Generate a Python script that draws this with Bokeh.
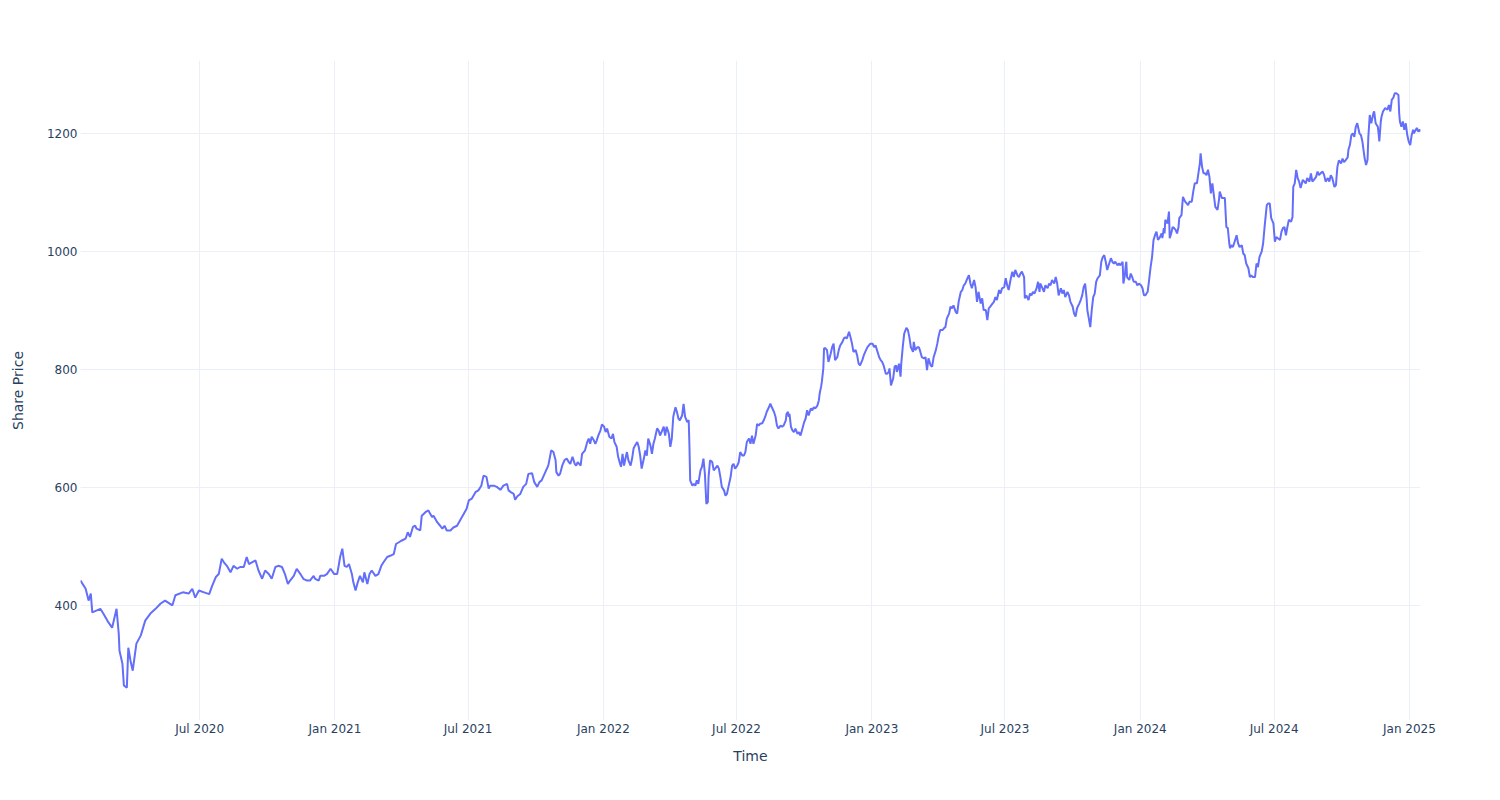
import pandas as pd
from bokeh.plotting import figure
from bokeh.models import Range1d, MonthsTicker, FixedTicker, DatetimeTickFormatter
from bokeh.embed import file_html
from bokeh.resources import INLINE

dates_2020 = ["2020-01-21","2020-01-28","2020-02-01","2020-02-04","2020-02-06","2020-02-17","2020-02-21","2020-02-28","2020-03-04","2020-03-10","2020-03-13","2020-03-14","2020-03-18","2020-03-20","2020-03-24","2020-03-26","2020-03-29","2020-04-01","2020-04-06","2020-04-12","2020-04-18","2020-04-25","2020-05-02","2020-05-09","2020-05-15","2020-05-25","2020-05-29","2020-06-08","2020-06-16","2020-06-21","2020-06-25","2020-06-30","2020-07-07","2020-07-14","2020-07-18","2020-07-23","2020-07-27","2020-07-31","2020-08-03","2020-08-07","2020-08-12","2020-08-16","2020-08-21","2020-08-25","2020-08-30","2020-09-03","2020-09-06","2020-09-10","2020-09-15","2020-09-19","2020-09-24","2020-09-28","2020-10-03","2020-10-07","2020-10-12","2020-10-16","2020-10-21","2020-10-25","2020-10-29","2020-11-01","2020-11-06","2020-11-10","2020-11-15","2020-11-19","2020-11-24","2020-11-28","2020-12-03","2020-12-05","2020-12-10","2020-12-12","2020-12-17","2020-12-21","2020-12-26","2020-12-31"]
price_2020 = [442,428,408,420,388,394,386,371,362,394,352,323,301,264,260,328,306,289,335,349,374,386,394,403,408,400,417,422,420,428,413,425,422,419,433,448,453,479,473,467,456,467,462,465,465,482,470,473,476,459,445,459,453,445,465,467,465,453,436,442,450,462,453,445,442,442,450,445,442,450,450,453,462,453]

dates_2021 = ["2021-01-04","2021-01-06","2021-01-08","2021-01-11","2021-01-14","2021-01-17","2021-01-20","2021-01-24","2021-01-26","2021-01-29","2021-02-01","2021-02-04","2021-02-08","2021-02-10","2021-02-14","2021-02-17","2021-02-20","2021-02-25","2021-03-01","2021-03-05","2021-03-08","2021-03-13","2021-03-17","2021-03-22","2021-03-25","2021-03-29","2021-04-02","2021-04-07","2021-04-10","2021-04-13","2021-04-17","2021-04-20","2021-04-22","2021-04-27","2021-04-29","2021-05-04","2021-05-08","2021-05-13","2021-05-15","2021-05-20","2021-05-24","2021-05-27","2021-05-30","2021-06-02","2021-06-07","2021-06-11","2021-06-16","2021-06-20","2021-06-25","2021-06-29","2021-07-02","2021-07-06","2021-07-11","2021-07-15","2021-07-19","2021-07-22","2021-07-26","2021-07-29","2021-07-31","2021-08-05","2021-08-09","2021-08-14","2021-08-18","2021-08-23","2021-08-25","2021-08-28","2021-09-01","2021-09-03","2021-09-06","2021-09-10","2021-09-14","2021-09-18","2021-09-21","2021-09-26","2021-09-29","2021-10-03","2021-10-06","2021-10-09","2021-10-14","2021-10-18","2021-10-19","2021-10-22","2021-10-25","2021-10-28","2021-10-29","2021-11-01","2021-11-03","2021-11-06","2021-11-09","2021-11-12","2021-11-15","2021-11-17","2021-11-20","2021-11-23","2021-11-25","2021-11-27","2021-12-01","2021-12-03","2021-12-05","2021-12-07","2021-12-10","2021-12-12","2021-12-14","2021-12-16","2021-12-19","2021-12-21","2021-12-23","2021-12-25","2021-12-28","2021-12-30"]
price_2021 = [453,467,482,496,467,465,470,453,439,425,439,450,439,456,436,453,459,450,453,467,473,482,484,487,504,507,510,513,524,516,533,535,530,527,552,558,561,550,552,541,535,530,535,527,527,532,535,544,555,564,578,581,592,595,603,620,618,598,603,603,601,596,603,606,595,592,589,579,585,589,601,606,623,624,609,601,609,612,626,637,643,663,660,646,626,620,623,637,646,649,643,640,652,640,637,643,637,657,660,663,677,683,674,686,680,674,680,688,697,707]

dates_2022 = ["2022-01-02","2022-01-04","2022-01-06","2022-01-09","2022-01-12","2022-01-14","2022-01-16","2022-01-19","2022-01-21","2022-01-23","2022-01-25","2022-01-27","2022-01-29","2022-01-31","2022-02-02","2022-02-04","2022-02-07","2022-02-09","2022-02-11","2022-02-13","2022-02-16","2022-02-18","2022-02-20","2022-02-22","2022-02-25","2022-02-27","2022-03-01","2022-03-03","2022-03-06","2022-03-08","2022-03-10","2022-03-12","2022-03-15","2022-03-17","2022-03-19","2022-03-24","2022-03-26","2022-03-28","2022-03-31","2022-04-02","2022-04-04","2022-04-06","2022-04-09","2022-04-11","2022-04-13","2022-04-15","2022-04-18","2022-04-20","2022-04-22","2022-04-25","2022-04-27","2022-04-28","2022-04-29","2022-05-02","2022-05-04","2022-05-06","2022-05-08","2022-05-10","2022-05-13","2022-05-15","2022-05-17","2022-05-19","2022-05-21","2022-05-23","2022-05-24","2022-05-26","2022-05-29","2022-05-31","2022-06-02","2022-06-05","2022-06-07","2022-06-09","2022-06-11","2022-06-14","2022-06-16","2022-06-18","2022-06-20","2022-06-23","2022-06-25","2022-06-27","2022-06-29","2022-07-02","2022-07-04","2022-07-06","2022-07-09","2022-07-11","2022-07-13","2022-07-15","2022-07-18","2022-07-20","2022-07-22","2022-07-24","2022-07-27","2022-07-29","2022-07-31","2022-08-02","2022-08-05","2022-08-07","2022-08-09","2022-08-11","2022-08-14","2022-08-16","2022-08-18","2022-08-21","2022-08-23","2022-08-25","2022-08-27","2022-08-30","2022-09-01","2022-09-03","2022-09-06","2022-09-07","2022-09-09","2022-09-10","2022-09-11","2022-09-13","2022-09-15","2022-09-17","2022-09-19","2022-09-22","2022-09-24","2022-09-26","2022-09-28","2022-10-01","2022-10-03","2022-10-05","2022-10-07","2022-10-10","2022-10-12","2022-10-14","2022-10-16","2022-10-19","2022-10-21","2022-10-22","2022-10-24","2022-10-25","2022-10-27","2022-10-28","2022-10-30","2022-11-01","2022-11-03","2022-11-06","2022-11-08","2022-11-10","2022-11-12","2022-11-15","2022-11-17","2022-11-19","2022-11-22","2022-11-24","2022-11-26","2022-11-28","2022-12-01","2022-12-03","2022-12-05","2022-12-07","2022-12-10","2022-12-12","2022-12-14","2022-12-16","2022-12-19","2022-12-21","2022-12-23","2022-12-26","2022-12-28","2022-12-30"]
price_2022 = [703,694,700,686,683,691,677,669,652,643,635,657,637,649,660,646,637,649,666,671,677,669,654,632,649,663,654,683,671,657,674,683,700,697,688,703,688,703,691,669,683,720,736,728,717,714,722,742,720,711,714,669,612,603,606,603,612,606,629,635,649,623,572,575,618,646,643,629,632,637,632,618,601,595,586,589,601,618,637,640,632,637,643,660,654,654,660,677,683,674,688,674,688,708,705,708,709,714,720,728,736,742,736,728,720,705,700,705,703,705,714,725,728,720,725,703,697,694,700,691,694,688,697,711,717,731,722,734,731,736,734,739,748,759,771,779,802,836,836,833,813,827,838,844,816,821,833,841,847,853,855,853,864,855,844,830,833,824,810,807,816,824,830,838,841,844]

dates_2023 = ["2023-01-02","2023-01-04","2023-01-06","2023-01-08","2023-01-11","2023-01-13","2023-01-15","2023-01-17","2023-01-20","2023-01-22","2023-01-24","2023-01-25","2023-01-27","2023-01-30","2023-02-01","2023-02-03","2023-02-04","2023-02-07","2023-02-09","2023-02-10","2023-02-12","2023-02-14","2023-02-17","2023-02-19","2023-02-21","2023-02-23","2023-02-26","2023-02-27","2023-03-01","2023-03-04","2023-03-06","2023-03-08","2023-03-10","2023-03-13","2023-03-15","2023-03-17","2023-03-19","2023-03-22","2023-03-24","2023-03-26","2023-03-29","2023-03-31","2023-04-02","2023-04-04","2023-04-07","2023-04-09","2023-04-11","2023-04-13","2023-04-16","2023-04-18","2023-04-20","2023-04-22","2023-04-25","2023-04-27","2023-04-29","2023-05-02","2023-05-04","2023-05-06","2023-05-08","2023-05-11","2023-05-13","2023-05-15","2023-05-17","2023-05-20","2023-05-22","2023-05-24","2023-05-26","2023-05-29","2023-05-31","2023-06-02","2023-06-05","2023-06-07","2023-06-09","2023-06-11","2023-06-14","2023-06-16","2023-06-18","2023-06-20","2023-06-23","2023-06-25","2023-06-27","2023-06-30","2023-07-02","2023-07-04","2023-07-06","2023-07-09","2023-07-11","2023-07-13","2023-07-15","2023-07-18","2023-07-20","2023-07-22","2023-07-24","2023-07-27","2023-07-28","2023-07-30","2023-08-02","2023-08-04","2023-08-06","2023-08-08","2023-08-10","2023-08-13","2023-08-15","2023-08-17","2023-08-18","2023-08-21","2023-08-23","2023-08-25","2023-08-28","2023-08-30","2023-09-01","2023-09-03","2023-09-06","2023-09-08","2023-09-10","2023-09-12","2023-09-15","2023-09-17","2023-09-19","2023-09-21","2023-09-24","2023-09-26","2023-09-28","2023-10-01","2023-10-03","2023-10-05","2023-10-07","2023-10-10","2023-10-12","2023-10-14","2023-10-16","2023-10-18","2023-10-20","2023-10-21","2023-10-23","2023-10-25","2023-10-27","2023-10-29","2023-10-31","2023-11-02","2023-11-04","2023-11-07","2023-11-09","2023-11-11","2023-11-13","2023-11-15","2023-11-17","2023-11-19","2023-11-22","2023-11-24","2023-11-26","2023-11-28","2023-12-01","2023-12-03","2023-12-05","2023-12-08","2023-12-09","2023-12-11","2023-12-12","2023-12-13","2023-12-14","2023-12-17","2023-12-19","2023-12-21","2023-12-23","2023-12-26","2023-12-28","2023-12-30"]
price_2023 = [844,838,841,833,821,816,813,807,793,793,796,802,773,785,805,807,796,810,788,810,838,861,871,867,855,838,830,847,833,838,838,830,821,819,821,799,819,807,805,821,833,844,858,867,867,870,872,887,895,907,904,909,898,895,915,932,935,943,946,955,960,946,938,952,940,915,932,912,921,901,901,884,904,907,912,915,923,918,935,929,938,940,955,943,935,955,966,957,969,960,957,963,966,957,921,926,918,929,926,932,929,938,949,932,946,938,932,943,938,946,943,952,946,957,946,926,938,929,935,923,932,926,915,907,895,890,904,912,918,926,940,946,921,901,887,872,901,923,929,949,955,960,983,991,994,983,969,977,989,983,980,983,977,980,977,983,946,960,974,983,957,952,963,957,949,949,943,946]

dates_2024 = ["2024-01-02","2024-01-04","2024-01-06","2024-01-08","2024-01-11","2024-01-13","2024-01-15","2024-01-17","2024-01-19","2024-01-21","2024-01-23","2024-01-25","2024-01-27","2024-01-30","2024-01-31","2024-02-02","2024-02-03","2024-02-04","2024-02-07","2024-02-09","2024-02-10","2024-02-12","2024-02-14","2024-02-16","2024-02-18","2024-02-20","2024-02-22","2024-02-23","2024-02-26","2024-02-28","2024-03-02","2024-03-04","2024-03-06","2024-03-08","2024-03-11","2024-03-13","2024-03-15","2024-03-18","2024-03-20","2024-03-22","2024-03-23","2024-03-25","2024-03-27","2024-03-29","2024-03-31","2024-04-02","2024-04-04","2024-04-06","2024-04-08","2024-04-10","2024-04-12","2024-04-15","2024-04-17","2024-04-18","2024-04-21","2024-04-23","2024-04-25","2024-04-27","2024-04-29","2024-05-01","2024-05-02","2024-05-04","2024-05-06","2024-05-09","2024-05-11","2024-05-13","2024-05-15","2024-05-18","2024-05-20","2024-05-22","2024-05-24","2024-05-27","2024-05-29","2024-05-31","2024-06-02","2024-06-05","2024-06-07","2024-06-09","2024-06-11","2024-06-14","2024-06-16","2024-06-18","2024-06-21","2024-06-23","2024-06-25","2024-06-27","2024-06-30","2024-07-02","2024-07-04","2024-07-06","2024-07-09","2024-07-11","2024-07-13","2024-07-15","2024-07-17","2024-07-19","2024-07-21","2024-07-24","2024-07-26","2024-07-27","2024-07-29","2024-07-31","2024-08-02","2024-08-04","2024-08-06","2024-08-09","2024-08-11","2024-08-13","2024-08-15","2024-08-18","2024-08-20","2024-08-22","2024-08-24","2024-08-27","2024-08-29","2024-08-31","2024-09-02","2024-09-05","2024-09-07","2024-09-09","2024-09-12","2024-09-14","2024-09-16","2024-09-18","2024-09-21","2024-09-23","2024-09-25","2024-09-27","2024-09-30","2024-10-02","2024-10-04","2024-10-06","2024-10-09","2024-10-10","2024-10-12","2024-10-14","2024-10-16","2024-10-18","2024-10-20","2024-10-22","2024-10-25","2024-10-27","2024-10-29","2024-11-01","2024-11-03","2024-11-05","2024-11-06","2024-11-08","2024-11-10","2024-11-13","2024-11-14","2024-11-16","2024-11-19","2024-11-20","2024-11-21","2024-11-23","2024-11-24","2024-11-26","2024-11-29","2024-12-02","2024-12-04","2024-12-06","2024-12-08","2024-12-10","2024-12-12","2024-12-14","2024-12-17","2024-12-18","2024-12-19","2024-12-21","2024-12-23","2024-12-25","2024-12-27","2024-12-29","2024-12-31"]
price_2024 = [943,938,926,926,932,952,974,991,1020,1028,1034,1020,1023,1031,1023,1040,1031,1054,1048,1068,1023,1031,1042,1040,1037,1031,1042,1057,1062,1093,1085,1082,1079,1085,1085,1102,1116,1116,1133,1150,1167,1144,1133,1133,1130,1139,1127,1099,1116,1096,1076,1071,1088,1102,1091,1091,1091,1042,1040,1014,1006,1011,1008,1020,1028,1014,1008,1011,997,994,980,972,957,960,957,957,980,974,991,1000,1014,1042,1079,1082,1082,1057,1048,1017,1025,1023,1020,1034,1040,1042,1028,1042,1054,1051,1059,1110,1116,1139,1125,1119,1108,1122,1119,1116,1125,1119,1133,1119,1122,1127,1136,1130,1133,1136,1130,1119,1125,1119,1130,1125,1110,1113,1144,1155,1150,1158,1152,1155,1160,1173,1181,1198,1201,1195,1212,1218,1201,1198,1187,1159,1147,1156,1193,1232,1218,1235,1238,1218,1212,1201,1187,1221,1229,1238,1244,1241,1249,1238,1258,1261,1269,1269,1266,1235,1221,1212,1221,1207,1218,1198,1187]

dates_2025 = ["2025-01-02","2025-01-04","2025-01-06","2025-01-07","2025-01-11","2025-01-13","2025-01-15","2025-01-16"]
price_2025 = [1181,1198,1207,1201,1210,1204,1207,1204]

y_ticks = [400, 600, 800, 1000, 1200]
x_label = "Time"
y_label = "Share Price"

dates = pd.to_datetime(dates_2020 + dates_2021 + dates_2022 + dates_2023 + dates_2024 + dates_2025)
prices = price_2020 + price_2021 + price_2022 + price_2023 + price_2024 + price_2025

ymin, ymax = min(prices), max(prices)
pad = (ymax - ymin) * 0.055

TEXT = "#2a3f5f"
GRID = "#EBF0F8"
FONT = "DejaVu Sans"

p = figure(width=1500, height=800, x_axis_type="datetime",
           output_backend="svg", toolbar_location=None,
           x_range=Range1d(dates.min(), dates.max()),
           y_range=Range1d(ymin - pad, ymax + pad),
           min_border_left=80, min_border_right=80,
           min_border_top=60, min_border_bottom=80)

p.line(dates, prices, line_color="#636efa", line_width=2)

p.outline_line_color = None
p.background_fill_color = "white"
p.border_fill_color = "white"

p.xaxis.ticker = MonthsTicker(months=[0, 6])
fmt = "%b %Y"
p.xaxis.formatter = DatetimeTickFormatter(days=fmt, months=fmt, years=fmt)
p.yaxis.ticker = FixedTicker(ticks=y_ticks)

for ax in (p.xaxis[0], p.yaxis[0]):
    ax.axis_line_color = None
    ax.major_tick_line_color = None
    ax.minor_tick_line_color = None
    ax.major_tick_out = 0
    ax.major_tick_in = 0
    ax.major_label_text_color = TEXT
    ax.major_label_text_font = FONT
    ax.major_label_text_font_size = "12px"
    ax.axis_label_text_color = TEXT
    ax.axis_label_text_font = FONT
    ax.axis_label_text_font_size = "14px"
    ax.axis_label_text_font_style = "normal"

p.xaxis.axis_label = x_label
p.yaxis.axis_label = y_label
p.xaxis.major_label_standoff = 1
p.xaxis.axis_label_standoff = 9
p.yaxis.major_label_standoff = 3
p.yaxis.axis_label_standoff = 18

p.xgrid.grid_line_color = GRID
p.ygrid.grid_line_color = GRID
p.xgrid.grid_line_width = 1
p.ygrid.grid_line_width = 1

open("out.html", "w").write(file_html(p, INLINE))
